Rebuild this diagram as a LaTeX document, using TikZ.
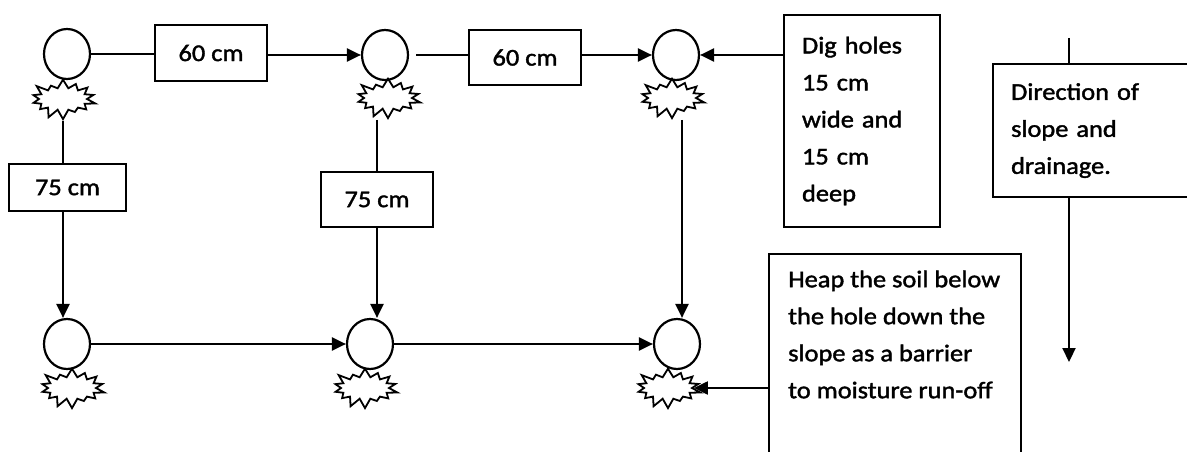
\documentclass[tikz,border=0pt]{standalone}
\usepackage{fontspec}
\setmainfont{Carlito}[FakeStretch=1.1,FakeBold=1.6]
\usetikzlibrary{shapes.symbols,shapes.geometric,arrows.meta}
\begin{document}
\begin{tikzpicture}[x=1pt,y=-1pt,
  every node/.style={font=\fontsize{24}{37}\selectfont},
  line/.style={line width=2.2pt},
  arr/.style={line width=2.2pt,-{Triangle[length=14pt,width=13pt]}},
  hole/.style={draw,line width=2.2pt,ellipse,minimum width=46pt,minimum height=50pt,inner sep=0pt},
  heap/.style={draw,line width=1.8pt,starburst,starburst points=14,starburst point height=10pt,minimum width=68pt,minimum height=42pt,inner sep=0pt,random starburst=60},
  lbl/.style={draw,line width=2.2pt,rectangle,inner sep=0pt}
]
\clip (0,0) rectangle (1187,452);
\fill[white] (0,0) rectangle (1187,452);
% holes
\node[hole] (c1) at (67,54) {};
\node[hole] (c2) at (385,55) {};
\node[hole] (c3) at (676,55) {};
\node[hole] (c4) at (67,344) {};
\node[hole] (c5) at (370,344) {};
\node[hole] (c6) at (677,344) {};
% soil heaps
\node[heap] (s1) at (63,99) {};
\node[heap] (s2) at (388,98) {};
\node[heap] (s3) at (672,98) {};
\node[heap] (s4) at (72,388) {};
\node[heap] (s5) at (365,388) {};
\node[heap] (s6) at (668,388) {};
% labels
\node[lbl,minimum width=112pt,minimum height=56pt] (b60a) at (211,53) {60 cm};
\node[lbl,minimum width=112pt,minimum height=55pt] (b60b) at (525,57.5) {60 cm};
\node[lbl,minimum width=117pt,minimum height=47pt] (b75a) at (67.5,187.5) {75 cm};
\node[lbl,minimum width=112pt,minimum height=55pt] (b75b) at (377,199.5) {75 cm};
\node[lbl,line width=2.8pt,minimum width=156pt,minimum height=212pt,align=left,text width=120pt,inner xsep=18pt] (dig) at (862,121)
  {Dig holes\\15 cm\\wide and\\15 cm\\deep};
\node[lbl,minimum width=210pt,minimum height=133pt,anchor=north west,align=left,text width=174pt,inner xsep=18pt] (dir) at (992,63)
  {Direction of\\slope and\\drainage.};
\node[lbl,line width=1.8pt,minimum width=252pt,minimum height=230pt,anchor=north west] (heapbox) at (768,253) {};
\node[anchor=west,align=left,inner sep=0pt] (heaptxt) at (788,334.5)
  {Heap the soil below\\the hole down the\\slope as a barrier\\to moisture run-off};
% connectors
\coordinate (v3) at (682,98);
\coordinate (dtop) at (1069,38);
\coordinate (dend) at (1069,362);
\draw[line] (c1.east) -- (c1.east -| b60a.west);
\draw[arr] (b60a.east |- c2.west) -- (c2.west);
\draw[line,shorten <=7pt] (c2.east) -- (c2.east -| b60b.west);
\draw[arr] (b60b.east |- c3.west) -- (c3.west);
\draw[arr] (dig.west |- c3.east) -- (c3.east);
\draw[line] (s1.south) -- (s1.south |- b75a.north);
\draw[arr] (s1.south |- b75a.south) -- (s1.south |- c4.north);
\draw[line] (b75b.north |- s2.south) -- (b75b.north);
\draw[arr] (b75b.south) -- (b75b.south |- c5.north);
\draw[arr] (v3 |- s3.south) -- (v3 |- c6.north);
\draw[arr] (c4.east) -- (c5.west);
\draw[arr] (c5.east) -- (c6.west);
\draw[arr] (heapbox.west |- s6.east) -- (s6.east);
\draw[line] (dtop) -- (dtop |- dir.north);
\draw[arr] (dtop |- dir.south) -- (dend);
\end{tikzpicture}
\end{document}
